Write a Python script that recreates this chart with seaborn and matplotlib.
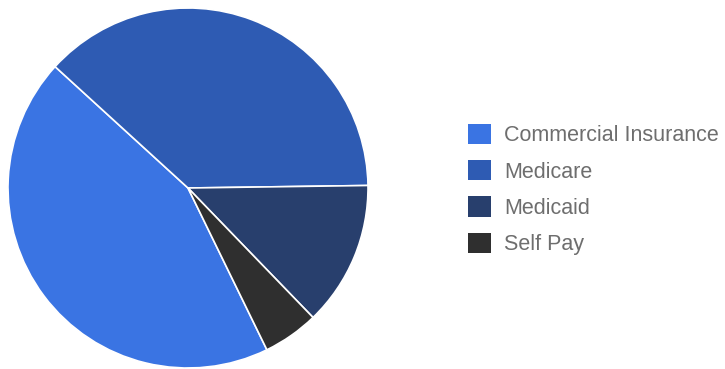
import matplotlib
matplotlib.use("Agg")
import matplotlib.pyplot as plt
import seaborn as sns

categories = ["Commercial Insurance", "Medicare", "Medicaid", "Self Pay"]
values = [44, 38, 13, 5]
colors = ["#3a74e3", "#2e5bb3", "#283f6d", "#2f2f2f"]

sns.set_theme(style="white")
plt.rcParams["font.family"] = ["Liberation Sans", "DejaVu Sans"]

W, H = 725, 369
fig = plt.figure(figsize=(W / 100, H / 100), dpi=100)
fig.patch.set_facecolor("white")

cx, cy, r = 188, 188, 180
ax = fig.add_axes([(cx - r) / W, 1 - (cy + r) / H, 2 * r / W, 2 * r / H])
wedges, _ = ax.pie(values, colors=colors, startangle=-64, counterclock=False,
                   radius=1.0, wedgeprops=dict(edgecolor="white", linewidth=1.2))
ax.set_xlim(-1, 1)
ax.set_ylim(-1, 1)
ax.set_aspect("equal")
ax.axis("off")

fs = 15.5
leg = fig.legend(wedges, categories, loc="upper left",
                 bbox_to_anchor=(468 / W, 1 - 124 / H),
                 frameon=False, fontsize=fs, borderpad=0, borderaxespad=0,
                 handlelength=1.07, handleheight=1.07, handletextpad=0.62,
                 labelspacing=0.64)
for t in leg.get_texts():
    t.set_color("#6e6e6e")
for h in leg.legend_handles:
    h.set_edgecolor("none")

fig.savefig("out.png", dpi=100, facecolor="white")
